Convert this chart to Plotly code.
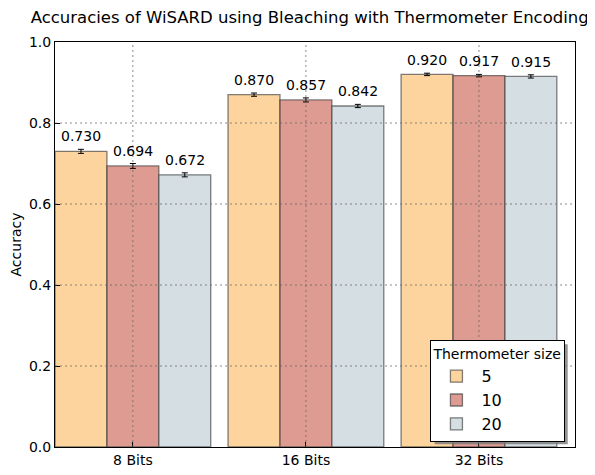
import plotly.graph_objects as go

categories = ["8 Bits", "16 Bits", "32 Bits"]
series_names = ["5", "10", "20"]
acc_5 = [0.730, 0.870, 0.920]
acc_10 = [0.694, 0.857, 0.917]
acc_20 = [0.672, 0.842, 0.915]
err_5 = [0.005, 0.004, 0.003]
err_10 = [0.006, 0.005, 0.003]
err_20 = [0.005, 0.004, 0.004]
y_ticks = [0.0, 0.2, 0.4, 0.6, 0.8, 1.0]

values = [acc_5, acc_10, acc_20]
errors = [err_5, err_10, err_20]
colors = ["rgba(253,205,140,0.85)", "rgba(214,130,118,0.8)", "rgba(205,216,222,0.85)"]
font = "DejaVu Sans"
bar_w = 0.3
xs = list(range(len(categories)))
grid_style = dict(color="rgba(100,100,100,0.75)", width=1, dash="2px,3px")

fig = go.Figure()
for i, name in enumerate(series_names):
    fig.add_trace(go.Bar(
        x=xs, y=values[i], name=name,
        marker=dict(color=colors[i], line=dict(color="rgba(60,60,60,0.65)", width=1.3)),
        error_y=dict(type="data", array=errors[i], color="black", thickness=1, width=3),
    ))
    for j, v in enumerate(values[i]):
        fig.add_annotation(x=xs[j] + (i - 1) * bar_w, y=v + errors[i][j], text=f"{v:.3f}",
                           showarrow=False, yanchor="bottom", yshift=3, xref="x", yref="y",
                           font=dict(family=font, size=14, color="black"))

# gridlines drawn above the bars (as in the reference)
for t in y_ticks[1:-1]:
    fig.add_shape(type="line", xref="paper", yref="y", x0=0, x1=1, y0=t, y1=t,
                  line=grid_style, layer="above")
for xv in xs:
    fig.add_shape(type="line", xref="x", yref="paper", x0=xv, x1=xv, y0=0, y1=1,
                  line=grid_style, layer="above")

fig.update_layout(
    width=587, height=467,
    margin=dict(l=47, r=20, t=34, b=28, autoexpand=False),
    paper_bgcolor="white", plot_bgcolor="white",
    barmode="group", bargap=0.1, bargroupgap=0,
    title=dict(text="Accuracies of WiSARD using Bleaching with Thermometer Encoding",
               x=0.514, xanchor="center", y=0.992, yanchor="top",
               font=dict(family=font, size=16.5, color="black")),
    font=dict(family=font, size=14, color="black"),
    xaxis=dict(range=[-0.45, 2.555], tickvals=xs, ticktext=categories, automargin=False,
               showline=True, linecolor="black", linewidth=1, mirror=True,
               ticks="inside", ticklen=5, tickcolor="black",
               showgrid=False, zeroline=False, tickfont=dict(size=14, family=font)),
    yaxis=dict(range=[0, 1], tickvals=y_ticks, ticktext=[f"{t:.1f}" for t in y_ticks],
               automargin=False,
               title=dict(text="Accuracy", font=dict(size=14, family=font), standoff=8),
               showline=True, linecolor="black", linewidth=1, mirror=True,
               ticks="inside", ticklen=5, tickcolor="black",
               showgrid=False, zeroline=False, tickfont=dict(size=14, family=font)),
    legend=dict(title=dict(text="Thermometer size", font=dict(size=14, family=font), side="top"),
                x=0.722, xanchor="left", y=0.264, yanchor="top",
                bgcolor="white", bordercolor="black", borderwidth=1,
                font=dict(size=16, family=font), itemwidth=40),
)
fig.add_shape(type="rect", xref="paper", yref="paper", x0=0.730, x1=0.986, y0=0.007, y1=0.254,
              fillcolor="rgba(120,120,120,0.8)", line=dict(width=0), layer="above")
fig.update_xaxes(layer="above traces")
fig.update_yaxes(layer="above traces")
fig.write_html("out.html")
